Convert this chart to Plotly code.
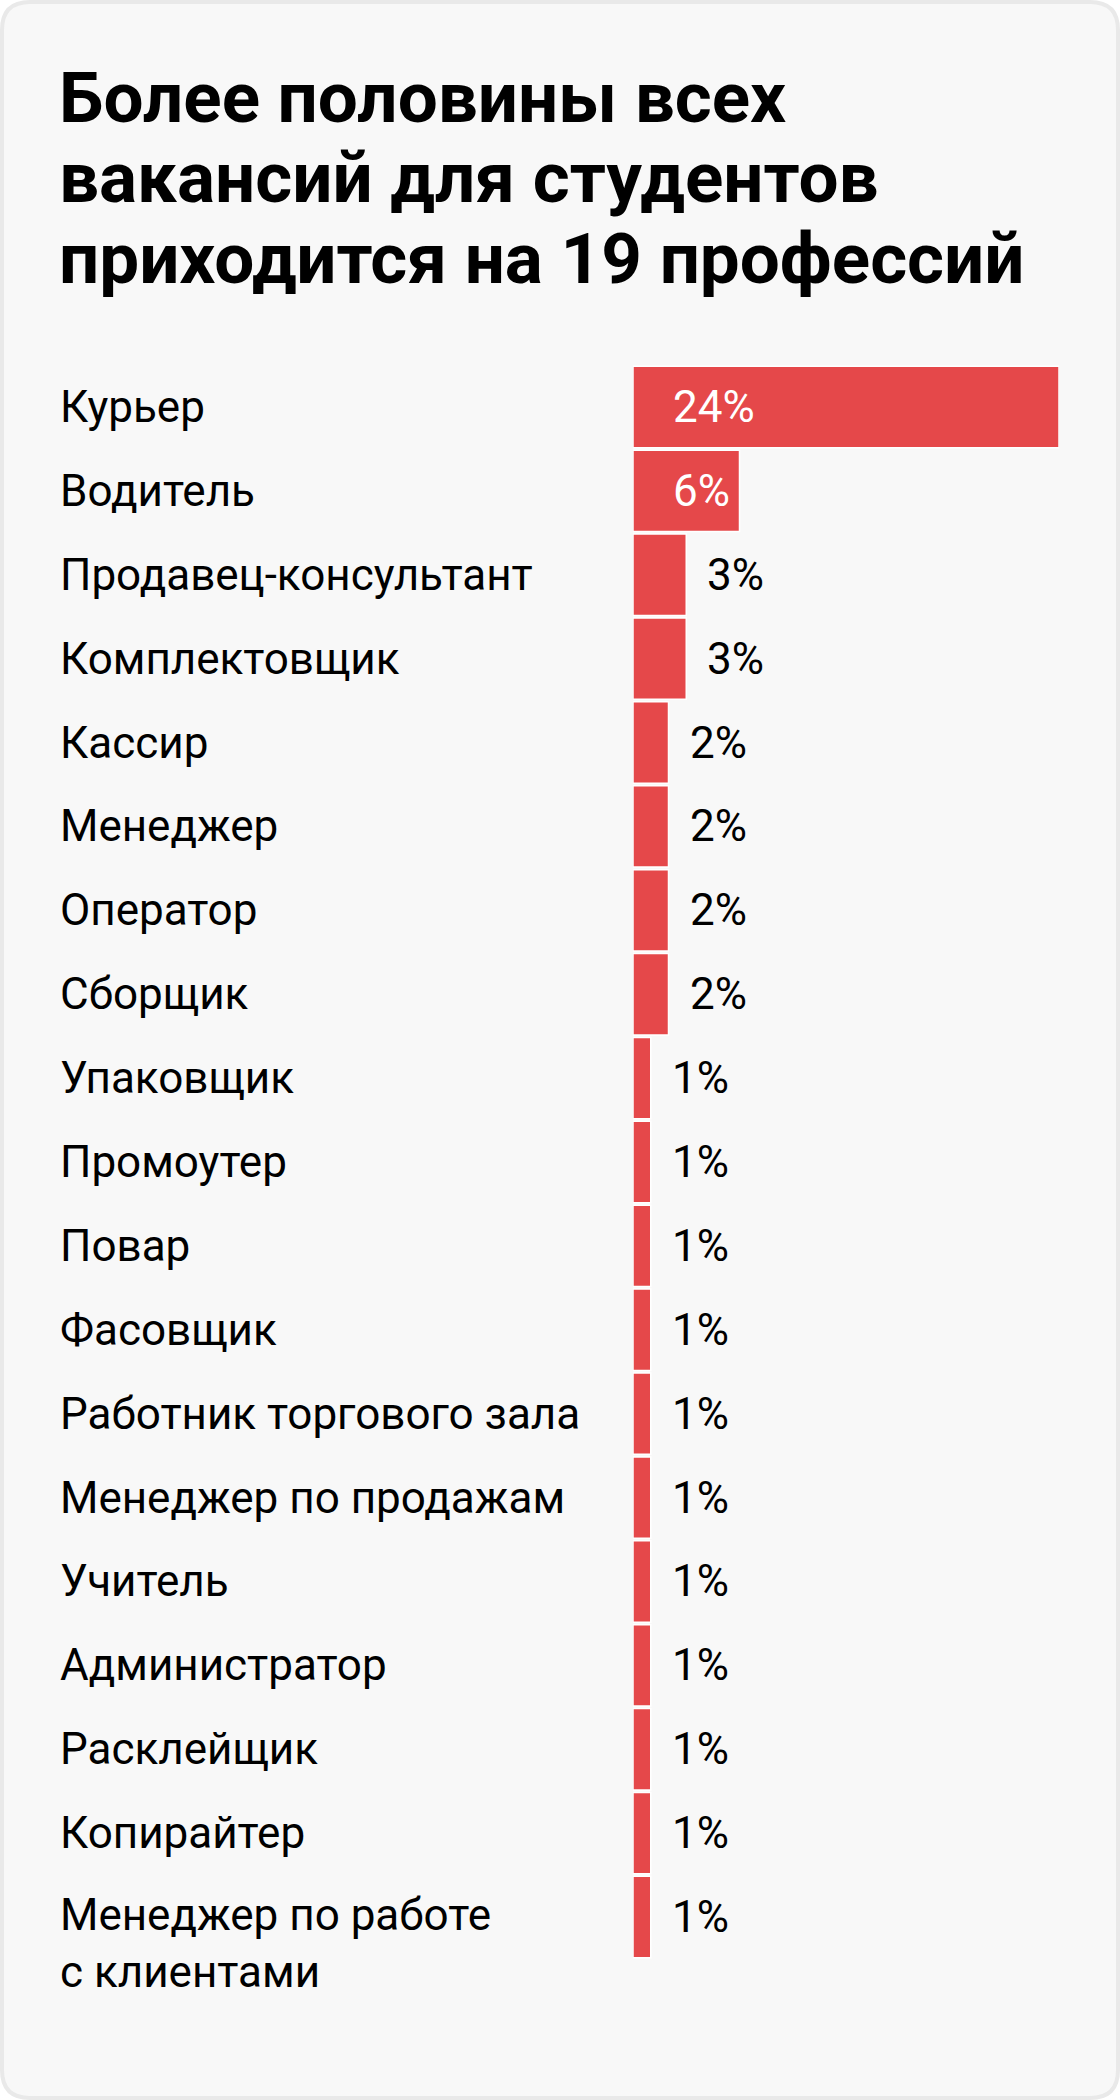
import plotly.graph_objects as go

# Data
professions = ["Курьер", "Водитель", "Продавец-консультант", "Комплектовщик",
               "Кассир", "Менеджер", "Оператор", "Сборщик", "Упаковщик",
               "Промоутер", "Повар", "Фасовщик", "Работник торгового зала",
               "Менеджер по продажам", "Учитель", "Администратор", "Расклейщик",
               "Копирайтер", "Менеджер по работе<br>с клиентами"]
shares = [24, 6, 3, 3, 2, 2, 2, 2, 1, 1, 1, 1, 1, 1, 1, 1, 1, 1, 1]
title_lines = ["Более половины всех", "вакансий для студентов",
               "приходится на 19 профессий"]

W, H = 1120, 2100
left, right, top, bottom = 633, 61, 365, 141
pw, ph = W - left - right, H - top - bottom

RED = "#e5484a"
FONT = "Roboto"


def px(x):  # pixel -> paper x
    return (x - left) / pw


def py(y):  # pixel -> paper y
    return (H - bottom - y) / ph


fig = go.Figure()
fig.add_trace(go.Bar(
    x=shares, y=list(range(len(shares))), orientation="h",
    marker=dict(color=RED, line=dict(color="white", width=1.5)),
    hoverinfo="skip",
))

# card background with rounded corners
x0, y0, x1, y1, r = 2, 2, 1118, 2098, 28
path = (f"M {px(x0 + r)},{py(y0)} L {px(x1 - r)},{py(y0)} "
        f"Q {px(x1)},{py(y0)} {px(x1)},{py(y0 + r)} "
        f"L {px(x1)},{py(y1 - r)} Q {px(x1)},{py(y1)} {px(x1 - r)},{py(y1)} "
        f"L {px(x0 + r)},{py(y1)} Q {px(x0)},{py(y1)} {px(x0)},{py(y1 - r)} "
        f"L {px(x0)},{py(y0 + r)} Q {px(x0)},{py(y0)} {px(x0 + r)},{py(y0)} Z")
fig.add_shape(type="path", path=path, xref="paper", yref="paper",
              fillcolor="#f8f8f8", line=dict(color="#e9e9e9", width=4),
              layer="below")

annotations = []
# title, one annotation per line
for k, line in enumerate(title_lines):
    annotations.append(dict(
        x=px(57), xref="paper", xanchor="left",
        y=py(98 + 80 * k), yref="paper", yanchor="middle",
        text=f"<b>{line}</b>", showarrow=False,
        font=dict(family=FONT, size=71, color="#000000")))

for i, (name, v) in enumerate(zip(professions, shares)):
    two_lines = "<br>" in name
    annotations.append(dict(
        x=0, xref="paper", xshift=-(left - 58), xanchor="left",
        y=i, yref="y", yanchor="top" if two_lines else "middle",
        yshift=30 if two_lines else 0,
        text=name, showarrow=False, align="left",
        font=dict(family=FONT, size=44, color="#000000")))
    inside = v >= 6
    annotations.append(dict(
        x=0 if inside else v, xref="x", xanchor="left",
        xshift=38 if inside else 19,
        y=i, yref="y", yanchor="middle",
        text=f"{v}%", showarrow=False,
        font=dict(family=FONT, size=44, color="white" if inside else "#000000")))

fig.update_layout(
    width=W, height=H,
    margin=dict(l=left, r=right, t=top, b=bottom, pad=0),
    paper_bgcolor="white", plot_bgcolor="rgba(0,0,0,0)",
    showlegend=False,
    bargap=0.03,
    xaxis=dict(range=[0, 24], visible=False, fixedrange=True),
    yaxis=dict(range=[len(shares) - 0.5, -0.5], visible=False, fixedrange=True),
    annotations=annotations,
)

fig.write_html("out.html", config={"displayModeBar": False},
               post_script="document.body.style.margin='0';")
